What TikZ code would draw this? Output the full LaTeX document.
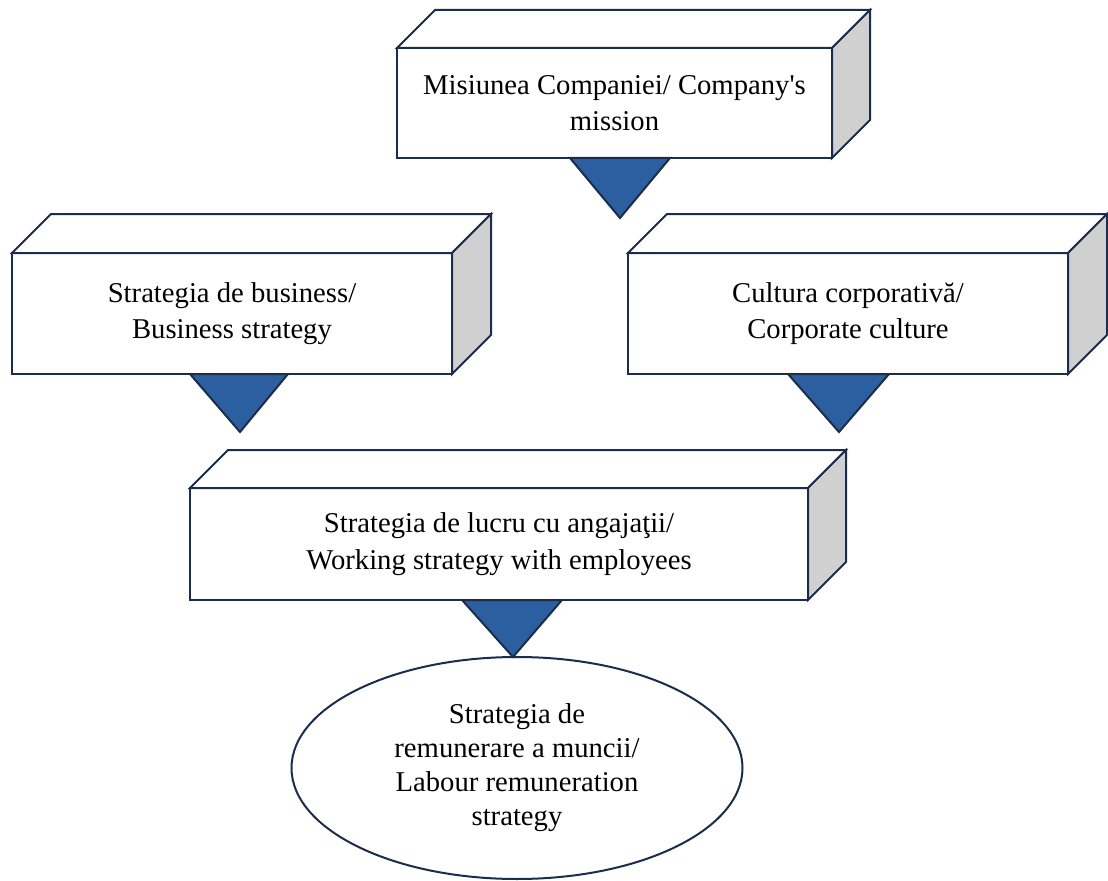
\documentclass[tikz,border=0pt]{standalone}
\usepackage{fontspec}
\setmainfont{Liberation Serif}
\usetikzlibrary{shapes.geometric,calc}
\definecolor{edgec}{HTML}{1B2D4A}
\definecolor{tric}{HTML}{2C5FA0}
\definecolor{sidec}{HTML}{D0D0D0}
\newcommand\straightapos{\XeTeXglyph\XeTeXglyphindex "quotesingle"\relax}
\tikzset{
  frontbox/.style={draw=edgec, line width=1.5pt, fill=white, rectangle, inner sep=0pt, outer sep=0pt,
    align=center, font=\fontsize{21.5pt}{27.5pt}\selectfont},
  facepart/.style={draw=edgec, line width=1.5pt, line join=miter},
  arrowtri/.style={draw=edgec, line width=1.5pt, fill=tric, line join=miter},
  endoval/.style={draw=edgec, line width=1.5pt, fill=white, ellipse, inner sep=0pt, outer sep=0pt,
    align=center, font=\fontsize{21.5pt}{25.5pt}\selectfont}
}
\newcommand\solidbox[2]{%
  \draw[facepart, fill=white] (#1.north west) -- ($(#1.north west)+(#2,-#2)$) -- ($(#1.north east)+(#2,-#2)$) -- (#1.north east) -- cycle;
  \draw[facepart, fill=sidec] (#1.north east) -- ($(#1.north east)+(#2,-#2)$) -- ($(#1.south east)+(#2,-#2)$) -- (#1.south east) -- cycle;
}
\begin{document}
\begin{tikzpicture}[x=0.75pt, y=-0.75pt]
\useasboundingbox (0,0) rectangle (1108,881);
% boxes (front faces)
\node[frontbox, minimum width=435*0.75pt, minimum height=110*0.75pt] (m) at (614.5,103) {Misiunea Companiei/ Company\straightapos s\\mission};
\solidbox{m}{38}
\node[frontbox, minimum width=440*0.75pt, minimum height=121*0.75pt] (b) at (232,313.5) {Strategia de business/\\Business strategy};
\solidbox{b}{39}
\node[frontbox, minimum width=440*0.75pt, minimum height=121*0.75pt] (c) at (848,313.5) {Cultura corporativă/\\ Corporate culture};
\solidbox{c}{39}
\node[frontbox, minimum width=618*0.75pt, minimum height=112*0.75pt] (w) at (499,544) {Strategia de lucru cu angajaţii/\\Working strategy with employees};
\solidbox{w}{38}
% ellipse
\node[endoval, minimum width=451*0.75pt, minimum height=222*0.75pt] (r) at (517,768) {Strategia de\\remunerare a muncii/\\Labour remuneration\\strategy};
% triangle connectors
\draw[arrowtri] ($(m.south)+(-44.5,0)$) -- ($(m.south)+(55.5,0)$) -- ($(m.south)+(5.5,60)$) -- cycle;
\draw[arrowtri] ($(b.south)+(-42,0)$) -- ($(b.south)+(56,0)$) -- ($(b.south)+(8,58)$) -- cycle;
\draw[arrowtri] ($(c.south)+(-60,0)$) -- ($(c.south)+(41,0)$) -- ($(c.south)+(-9,58)$) -- cycle;
\draw[arrowtri] ($(w.south)+(-37,0)$) -- ($(w.south)+(63,0)$) -- ($(r.north)+(-4,0)$) -- cycle;
\end{tikzpicture}
\end{document}
